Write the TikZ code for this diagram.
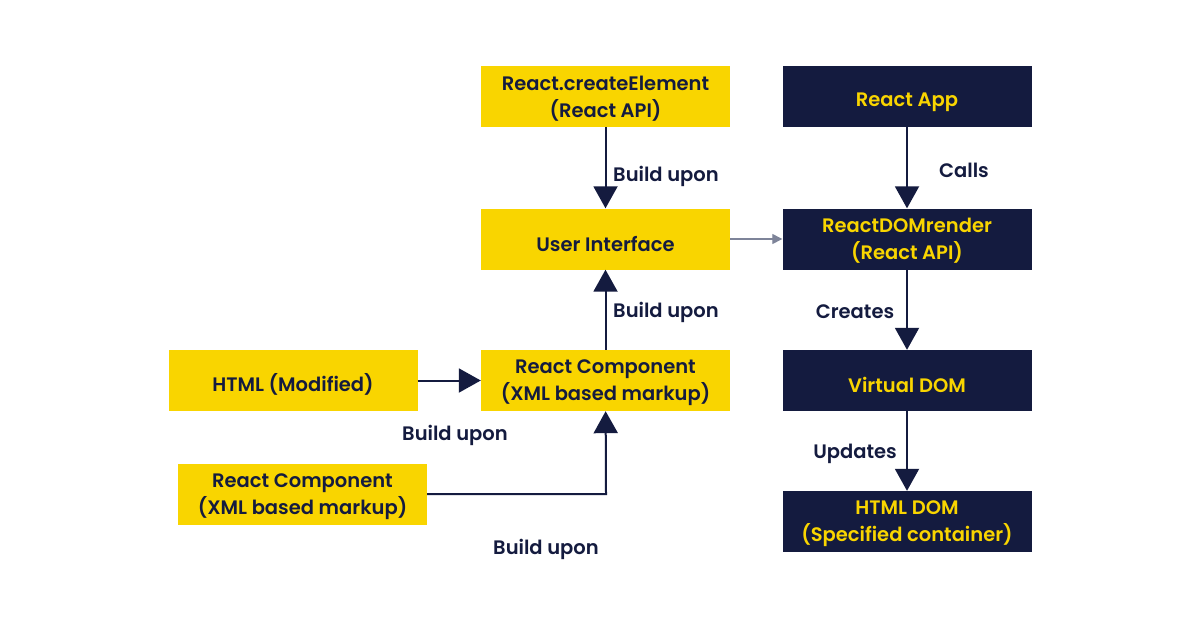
\documentclass[tikz,border=0pt]{standalone}
\usepackage{fontspec}
\setmainfont{Poppins}[UprightFont=* SemiBold]
\usetikzlibrary{arrows.meta}
\definecolor{navy}{HTML}{141B3F}
\definecolor{yel}{HTML}{F9D500}
\definecolor{thin}{HTML}{7E8499}
\tikzset{
  box/.style={rectangle, minimum width=249pt, minimum height=61pt, inner sep=0pt, align=center, font=\fontsize{19.5}{27}\selectfont, execute at begin node={\rule{0pt}{25pt}}},
  twoline/.style={execute at begin node={}, text depth=0pt},
  ybox/.style={box, fill=yel, text=navy},
  nbox/.style={box, fill=navy, text=yel},
  conn/.style={draw=navy, line width=2pt, -{Triangle[width=24pt,length=22pt]}},
  thinconn/.style={draw=thin, line width=1.3pt, -{Triangle[width=10pt,length=10pt]}},
  lbl/.style={text=navy, font=\fontsize{19.5}{22}\selectfont, inner sep=0pt}
}
\begin{document}
\begin{tikzpicture}[x=1pt,y=-1pt]
\useasboundingbox[fill=white] (0,0) rectangle (1201,629);
\node[ybox,twoline] (ce) at (605.5,96.5) {React.createElement\\(React API)};
\node[ybox] (ui) at (605.5,239) {User Interface};
\node[ybox,twoline] (rc) at (605.5,380.5) {React Component\\(XML based markup)};
\node[ybox] (html) at (293,380.5) {HTML (Modified)};
\node[ybox,twoline] (rc2) at (302.5,494) {React Component\\(XML based markup)};
\node[nbox] (app) at (907,96.5) {React App};
\node[nbox,twoline] (rdr) at (907,239) {ReactDOMrender\\(React API)};
\node[nbox] (vd) at (907,380.5) {Virtual DOM};
\node[nbox,twoline] (hd) at (907,521.5) {HTML DOM\\(Specified container)};
\coordinate (corner) at (606,494);
\draw[conn] (ce) -- (ui);
\draw[conn] (rc) -- (ui);
\draw[conn] (html) -- (rc);
\draw[conn] (rc2.east) -- (corner) -- (rc);
\draw[thinconn] (ui) -- (rdr);
\draw[conn] (app) -- (rdr);
\draw[conn] (rdr) -- (vd);
\draw[conn] (vd) -- (hd);
\node[lbl] (l1) at (666,176) {Build upon};
\node[lbl] (l2) at (666,312) {Build upon};
\node[lbl] (l3) at (455,435) {Build upon};
\node[lbl] (l4) at (546,549) {Build upon};
\node[lbl] (l5) at (964,170) {Calls};
\node[lbl] (l6) at (855,312) {Creates};
\node[lbl] (l7) at (855,454) {Updates};
\end{tikzpicture}
\end{document}
